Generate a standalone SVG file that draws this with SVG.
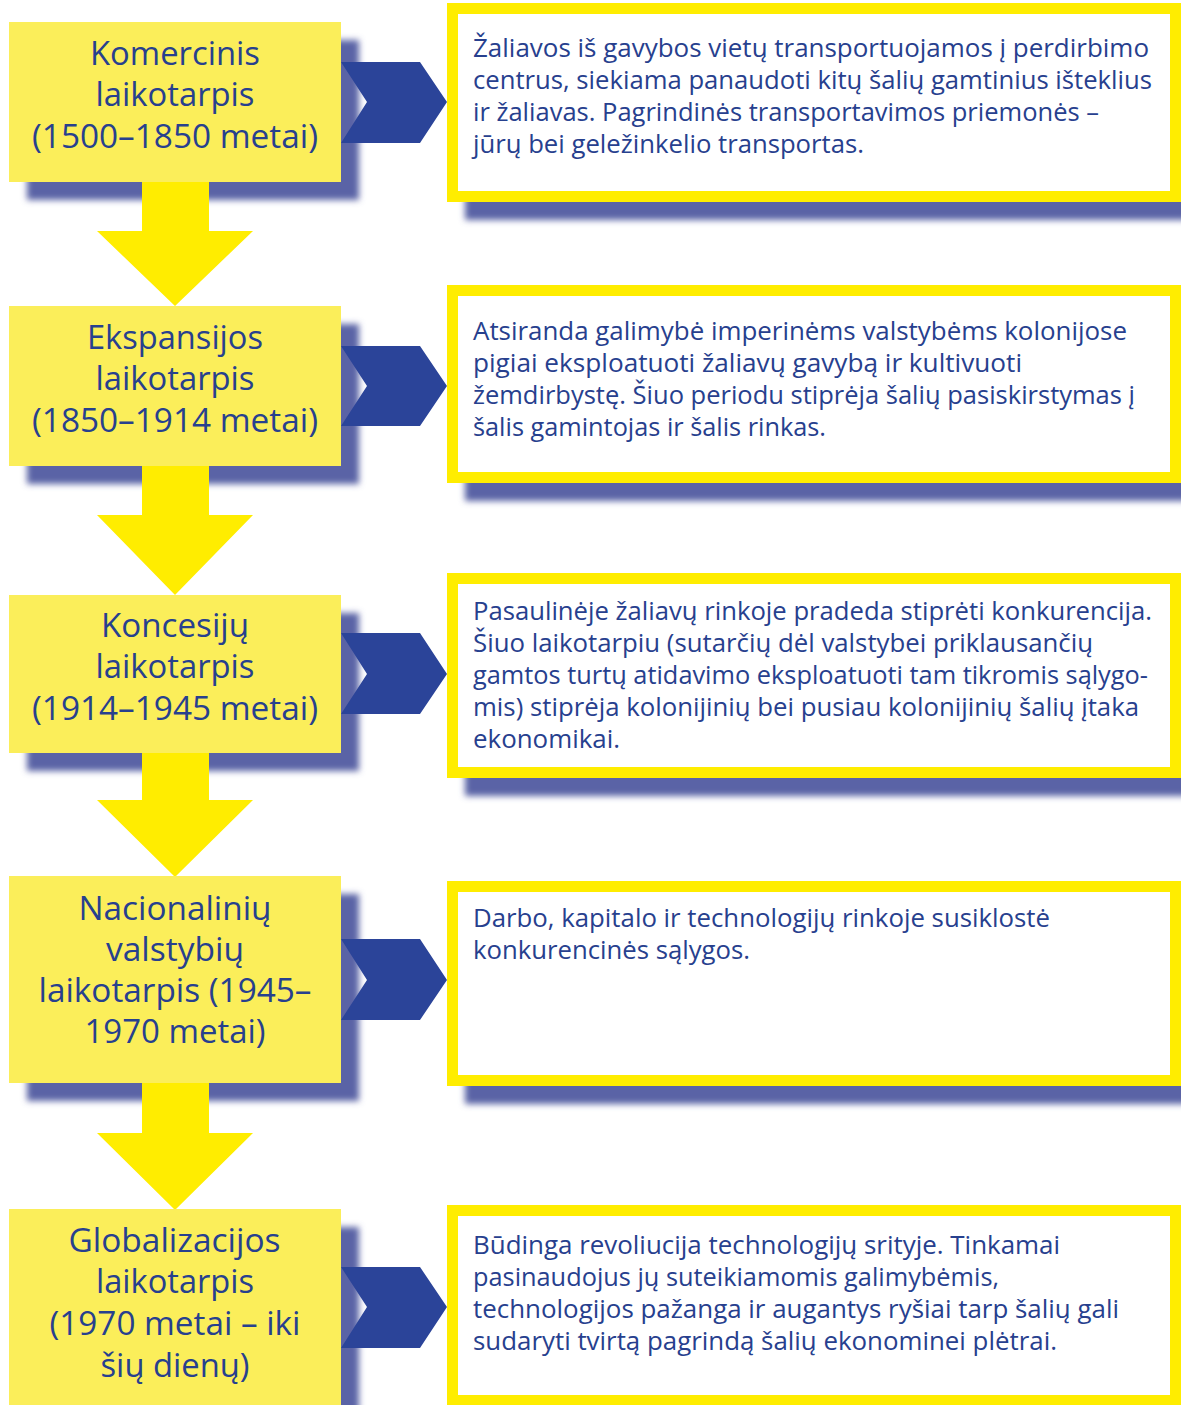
<svg xmlns="http://www.w3.org/2000/svg" width="1181" height="1405" viewBox="0 0 1181 1405">
  <defs>
    <filter id="soft" x="-10%" y="-20%" width="120%" height="140%">
      <feGaussianBlur stdDeviation="3"/>
    </filter>
  </defs>
  <style>
    .shadow { fill: #5a63a6; filter: url(#soft); }
    .period { fill: #fbee5a; }
    .step { fill: #ffed00; }
    .link { fill: #2b4499; }
    .card { fill: #ffffff; stroke: #ffed00; stroke-width: 11; }
    .lbl { font-family: "Open Sans", "Noto Sans", sans-serif; fill: #27408e; }
    .title { font-size: 32px; }
    .desc { font-size: 25px; }
  </style>

  <rect width="1181" height="1405" fill="#ffffff"/>

  <!-- drop shadows behind every box -->
  <g id="shadows">
    <rect class="shadow" x="27" y="40" width="332" height="160"/>
    <rect class="shadow" x="27" y="324" width="332" height="160"/>
    <rect class="shadow" x="27" y="613" width="332" height="158"/>
    <rect class="shadow" x="27" y="894" width="332" height="207"/>
    <rect class="shadow" x="27" y="1227" width="332" height="200"/>
    <rect class="shadow" x="465" y="21" width="734" height="199"/>
    <rect class="shadow" x="465" y="303" width="734" height="198"/>
    <rect class="shadow" x="465" y="591" width="734" height="205"/>
    <rect class="shadow" x="465" y="899" width="734" height="205"/>
  </g>

  <!-- down arrows between periods, chevrons from period to description -->
  <g id="connectors">
    <path class="step" d="M142,182 H209 V231 H253 L175,306 L97,231 H142 Z"/>
    <path class="step" d="M142,466 H209 V515 H253 L175,595 L97,515 H142 Z"/>
    <path class="step" d="M142,753 H209 V800 H253 L175,877 L97,800 H142 Z"/>
    <path class="step" d="M142,1083 H209 V1133 H253 L175,1210 L97,1133 H142 Z"/>

    <path class="link" d="M341,62 H420 L447,102 L420,143 H341 L367,102 Z"/>
    <path class="link" d="M341,346 H420 L447,386 L420,426 H341 L367,386 Z"/>
    <path class="link" d="M341,633 H420 L447,674 L420,714 H341 L367,674 Z"/>
    <path class="link" d="M341,939 H420 L447,980 L420,1020 H341 L367,980 Z"/>
    <path class="link" d="M341,1267 H420 L447,1307 L420,1348 H341 L367,1307 Z"/>
  </g>

  <!-- periods (each line starts at centre minus half its width) -->
  <g id="period-1">
    <rect class="period" x="9" y="22" width="332" height="160"/>
    <text class="lbl title">
      <tspan x="90" y="65" textLength="170" lengthAdjust="spacingAndGlyphs">Komercinis</tspan>
      <tspan x="95.5" y="106" textLength="159" lengthAdjust="spacingAndGlyphs">laikotarpis</tspan>
      <tspan x="32" y="148" textLength="286" lengthAdjust="spacingAndGlyphs">(1500–1850 metai)</tspan>
    </text>
  </g>
  <g id="period-2">
    <rect class="period" x="9" y="306" width="332" height="160"/>
    <text class="lbl title">
      <tspan x="87" y="349" textLength="176" lengthAdjust="spacingAndGlyphs">Ekspansijos</tspan>
      <tspan x="95.5" y="390" textLength="159" lengthAdjust="spacingAndGlyphs">laikotarpis</tspan>
      <tspan x="32" y="432" textLength="286" lengthAdjust="spacingAndGlyphs">(1850–1914 metai)</tspan>
    </text>
  </g>
  <g id="period-3">
    <rect class="period" x="9" y="595" width="332" height="158"/>
    <text class="lbl title">
      <tspan x="101" y="637" textLength="148" lengthAdjust="spacingAndGlyphs">Koncesijų</tspan>
      <tspan x="95.5" y="678" textLength="159" lengthAdjust="spacingAndGlyphs">laikotarpis</tspan>
      <tspan x="32" y="720" textLength="286" lengthAdjust="spacingAndGlyphs">(1914–1945 metai)</tspan>
    </text>
  </g>
  <g id="period-4">
    <rect class="period" x="9" y="876" width="332" height="207"/>
    <text class="lbl title">
      <tspan x="78.5" y="920" textLength="193" lengthAdjust="spacingAndGlyphs">Nacionalinių</tspan>
      <tspan x="106" y="961" textLength="138" lengthAdjust="spacingAndGlyphs">valstybių</tspan>
      <tspan x="38.5" y="1002" textLength="273" lengthAdjust="spacingAndGlyphs">laikotarpis (1945–</tspan>
      <tspan x="84.5" y="1043" textLength="181" lengthAdjust="spacingAndGlyphs">1970 metai)</tspan>
    </text>
  </g>
  <g id="period-5">
    <rect class="period" x="9" y="1209" width="332" height="200"/>
    <text class="lbl title">
      <tspan x="68.5" y="1252" textLength="212" lengthAdjust="spacingAndGlyphs">Globalizacijos</tspan>
      <tspan x="96" y="1293" textLength="158" lengthAdjust="spacingAndGlyphs">laikotarpis</tspan>
      <tspan x="49.5" y="1335" textLength="251" lengthAdjust="spacingAndGlyphs">(1970 metai – iki</tspan>
      <tspan x="100.5" y="1377" textLength="149" lengthAdjust="spacingAndGlyphs">šių dienų)</tspan>
    </text>
  </g>

  <!-- descriptions -->
  <g id="desc-1">
    <rect class="card" x="452.5" y="8.5" width="723" height="188"/>
    <text class="lbl desc">
      <tspan x="473" y="57" textLength="676" lengthAdjust="spacingAndGlyphs">Žaliavos iš gavybos vietų transportuojamos į perdirbimo</tspan>
      <tspan x="473" y="89" textLength="679" lengthAdjust="spacingAndGlyphs">centrus, siekiama panaudoti kitų šalių gamtinius išteklius</tspan>
      <tspan x="473" y="121" textLength="626" lengthAdjust="spacingAndGlyphs">ir žaliavas. Pagrindinės transportavimos priemonės –</tspan>
      <tspan x="473" y="153" textLength="391" lengthAdjust="spacingAndGlyphs">jūrų bei geležinkelio transportas.</tspan>
    </text>
  </g>
  <g id="desc-2">
    <rect class="card" x="452.5" y="290.5" width="723" height="187"/>
    <text class="lbl desc">
      <tspan x="473" y="340" textLength="654" lengthAdjust="spacingAndGlyphs">Atsiranda galimybė imperinėms valstybėms kolonijose</tspan>
      <tspan x="473" y="372" textLength="549" lengthAdjust="spacingAndGlyphs">pigiai eksploatuoti žaliavų gavybą ir kultivuoti</tspan>
      <tspan x="473" y="404" textLength="662" lengthAdjust="spacingAndGlyphs">žemdirbystę. Šiuo periodu stiprėja šalių pasiskirstymas į</tspan>
      <tspan x="473" y="436" textLength="353" lengthAdjust="spacingAndGlyphs">šalis gamintojas ir šalis rinkas.</tspan>
    </text>
  </g>
  <g id="desc-3">
    <rect class="card" x="452.5" y="578.5" width="723" height="194"/>
    <text class="lbl desc">
      <tspan x="473" y="620" textLength="679" lengthAdjust="spacingAndGlyphs">Pasaulinėje žaliavų rinkoje pradeda stiprėti konkurencija.</tspan>
      <tspan x="473" y="652" textLength="620" lengthAdjust="spacingAndGlyphs">Šiuo laikotarpiu (sutarčių dėl valstybei priklausančių</tspan>
      <tspan x="473" y="684" textLength="675" lengthAdjust="spacingAndGlyphs">gamtos turtų atidavimo eksploatuoti tam tikromis sąlygo-</tspan>
      <tspan x="473" y="716" textLength="666" lengthAdjust="spacingAndGlyphs">mis) stiprėja kolonijinių bei pusiau kolonijinių šalių įtaka</tspan>
      <tspan x="473" y="748" textLength="147" lengthAdjust="spacingAndGlyphs">ekonomikai.</tspan>
    </text>
  </g>
  <g id="desc-4">
    <rect class="card" x="452.5" y="886.5" width="723" height="194"/>
    <text class="lbl desc">
      <tspan x="473" y="927" textLength="577" lengthAdjust="spacingAndGlyphs">Darbo, kapitalo ir technologijų rinkoje susiklostė</tspan>
      <tspan x="473" y="959" textLength="277" lengthAdjust="spacingAndGlyphs">konkurencinės sąlygos.</tspan>
    </text>
  </g>
  <g id="desc-5">
    <rect class="card" x="452.5" y="1210.5" width="723" height="190"/>
    <text class="lbl desc">
      <tspan x="473" y="1254" textLength="587" lengthAdjust="spacingAndGlyphs">Būdinga revoliucija technologijų srityje. Tinkamai</tspan>
      <tspan x="473" y="1286" textLength="526" lengthAdjust="spacingAndGlyphs">pasinaudojus jų suteikiamomis galimybėmis,</tspan>
      <tspan x="473" y="1318" textLength="646" lengthAdjust="spacingAndGlyphs">technologijos pažanga ir augantys ryšiai tarp šalių gali</tspan>
      <tspan x="473" y="1350" textLength="584" lengthAdjust="spacingAndGlyphs">sudaryti tvirtą pagrindą šalių ekonominei plėtrai.</tspan>
    </text>
  </g>
</svg>
